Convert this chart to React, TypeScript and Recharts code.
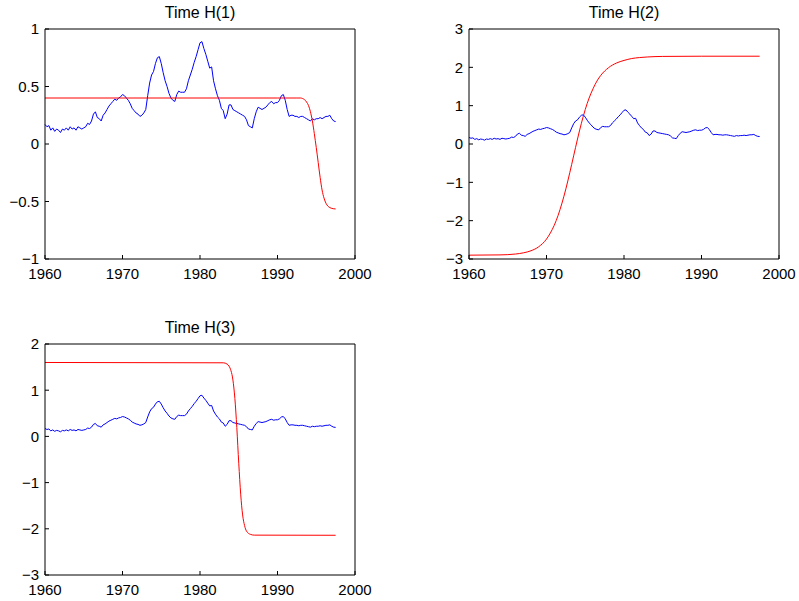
import type { JSX } from 'react';
import { Line, LineChart, XAxis, YAxis } from 'recharts';

// quarterly observations, first one is 1960Q1
const START_YEAR = 1960;
const blueSeries = [
  0.17, 0.15, 0.16, 0.12, 0.14, 0.11, 0.13, 0.12, 0.1, 0.13, 0.12, 0.14, 0.12, 0.15, 0.13, 0.14,
  0.12, 0.15, 0.14, 0.13, 0.14, 0.15, 0.18, 0.17, 0.2, 0.26, 0.28, 0.23, 0.22, 0.2, 0.25, 0.27,
  0.3, 0.33, 0.35, 0.37, 0.39, 0.38, 0.4, 0.41, 0.43, 0.42, 0.4, 0.38, 0.35, 0.31, 0.29, 0.27,
  0.26, 0.24, 0.25, 0.27, 0.3, 0.42, 0.53, 0.6, 0.63, 0.7, 0.75, 0.76, 0.7, 0.62, 0.55, 0.5,
  0.44, 0.4, 0.38, 0.37, 0.43, 0.46, 0.45, 0.45, 0.45, 0.48, 0.55, 0.6, 0.65, 0.71, 0.76, 0.82,
  0.88, 0.89, 0.83, 0.78, 0.72, 0.66, 0.67, 0.55, 0.48, 0.42, 0.38, 0.31, 0.29, 0.22, 0.26, 0.34,
  0.34, 0.3, 0.29, 0.28, 0.27, 0.26, 0.25, 0.24, 0.21, 0.16, 0.15, 0.14, 0.22, 0.28, 0.32, 0.31,
  0.3, 0.31, 0.32, 0.34, 0.36, 0.37, 0.35, 0.36, 0.36, 0.38, 0.42, 0.43, 0.38, 0.3, 0.24, 0.25,
  0.25, 0.24, 0.24, 0.23, 0.24, 0.24, 0.23, 0.22, 0.21, 0.2, 0.22, 0.21, 0.22, 0.22, 0.23, 0.22,
  0.23, 0.24, 0.24, 0.25, 0.22, 0.2, 0.195,
];

const red1Years = [
  1960, 1990, 1992.5, 1993, 1993.25, 1993.5, 1993.75, 1994, 1994.25, 1994.5, 1994.75, 1995,
  1995.25, 1995.5, 1995.75, 1996, 1996.25, 1996.5, 1996.75, 1997, 1997.5,
];
const red1Values = [
  0.4, 0.4, 0.4, 0.4, 0.395, 0.385, 0.365, 0.335, 0.28, 0.2, 0.09, -0.03, -0.16, -0.29, -0.4,
  -0.47, -0.515, -0.54, -0.553, -0.56, -0.565,
];

const red2Years = [
  1960, 1964, 1966, 1967, 1968, 1969, 1970, 1970.5, 1971, 1971.5, 1972, 1972.5, 1973, 1973.5,
  1974, 1974.5, 1975, 1975.5, 1976, 1976.5, 1977, 1978, 1979, 1980, 1981, 1982, 1983, 1985,
  1990, 1997.5,
];
const red2Values = [
  -2.9, -2.893, -2.87, -2.84, -2.785, -2.68, -2.48, -2.32, -2.12, -1.86, -1.54, -1.17, -0.75,
  -0.31, 0.13, 0.54, 0.9, 1.2, 1.44, 1.64, 1.79, 1.99, 2.11, 2.18, 2.23, 2.255, 2.27, 2.285,
  2.29, 2.29,
];

const red3Years = [
  1960, 1983, 1983.5, 1983.75, 1984, 1984.25, 1984.5, 1984.75, 1985, 1985.25, 1985.5, 1985.75,
  1986, 1986.5, 1987, 1997.5,
];
const red3Values = [
  1.6, 1.593, 1.565, 1.52, 1.42, 1.22, 0.82, 0.19, -0.58, -1.25, -1.7, -1.93, -2.05, -2.12,
  -2.137, -2.14,
];

const xTicks = [1960, 1970, 1980, 1990, 2000];
const yTicks1 = [-1, -0.5, 0, 0.5, 1];
const yTicks2 = [-3, -2, -1, 0, 1, 2, 3];
const yTicks3 = [-3, -2, -1, 0, 1, 2];

const blueData = blueSeries.map((v, i) => ({ t: START_YEAR + i / 4, v }));
const pairUp = (ts: number[], vs: number[]) => ts.map((t, i) => ({ t, v: vs[i] }));

const FONT = '"Liberation Sans", Arial, Helvetica, sans-serif';
const tickStyle = { fill: '#000', fontSize: 15, fontFamily: FONT };
// matlab prints a real minus sign
const fmtY = (v: number) => String(v).replace('-', '\u2212');

function Panel({
  title,
  left,
  top,
  width,
  height,
  plotHeight,
  yTicks,
  red,
}: {
  title: string;
  left: number;
  top: number;
  width: number;
  height: number;
  plotHeight: number;
  yTicks: number[];
  red: { t: number; v: number }[];
}): JSX.Element {
  const domain: [number, number] = [yTicks[0], yTicks[yTicks.length - 1]];
  // top axis is 1px tall, right axis 1px wide (a 0-size axis is not drawn at all)
  const marginTop = 28;
  const bottom = height - marginTop - 1 - plotHeight - 20;
  return (
    <div style={{ position: 'absolute', left, top, width, height }}>
      <div
        style={{
          position: 'absolute',
          left: 45,
          top: 4,
          width: 310,
          textAlign: 'center',
          fontFamily: FONT,
          fontSize: 16,
          lineHeight: '18px',
          color: '#000',
        }}
      >
        {title}
      </div>
      <LineChart width={width} height={height} margin={{ top: marginTop, right: width - 356, left: 0, bottom }}>
        <XAxis
          dataKey="t"
          type="number"
          domain={[1960, 2000]}
          ticks={xTicks}
          height={20}
          tickSize={-4}
          tickMargin={13}
          tick={tickStyle}
          stroke="#000"
          interval={0}
        />
        <XAxis
          xAxisId="top"
          orientation="top"
          dataKey="t"
          type="number"
          domain={[1960, 2000]}
          ticks={xTicks}
          height={1}
          tickSize={-4}
          tick={false}
          stroke="#000"
          interval={0}
        />
        <YAxis
          type="number"
          domain={domain}
          ticks={yTicks}
          width={45}
          tickSize={-4}
          tickMargin={10}
          tick={tickStyle}
          tickFormatter={fmtY}
          stroke="#000"
          interval={0}
        />
        <YAxis
          yAxisId="right"
          orientation="right"
          type="number"
          domain={domain}
          ticks={yTicks}
          width={1}
          tickSize={-4}
          tick={false}
          stroke="#000"
          interval={0}
        />
        {/* invisible copy so the top and right axes get a scale and draw the box */}
        <Line xAxisId="top" yAxisId="right" data={blueData} dataKey="v" stroke="none" dot={false} isAnimationActive={false} />
        <Line data={blueData} dataKey="v" stroke="#0000ff" strokeWidth={1} dot={false} type="linear" isAnimationActive={false} />
        <Line data={red} dataKey="v" stroke="#ff0000" strokeWidth={1} dot={false} type="monotone" isAnimationActive={false} />
      </LineChart>
    </div>
  );
}

export default function App(): JSX.Element {
  return (
    <div style={{ position: 'absolute', left: 0, top: 0, width: 799, height: 601, background: '#fff' }}>
      <Panel title="Time H(1)" left={0} top={0} width={380} height={290} plotHeight={230} yTicks={yTicks1} red={pairUp(red1Years, red1Values)} />
      <Panel title="Time H(2)" left={424} top={0} width={375} height={290} plotHeight={230} yTicks={yTicks2} red={pairUp(red2Years, red2Values)} />
      <Panel title="Time H(3)" left={0} top={315} width={380} height={282} plotHeight={231} yTicks={yTicks3} red={pairUp(red3Years, red3Values)} />
    </div>
  );
}
